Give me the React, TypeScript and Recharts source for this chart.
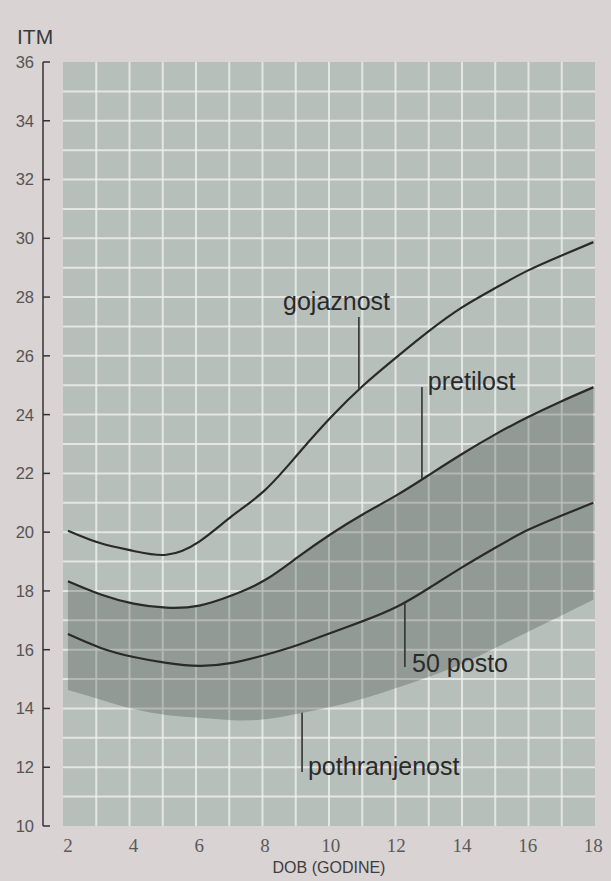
import React from 'react';
import {
  ComposedChart,
  Line,
  Area,
  XAxis,
  YAxis,
  CartesianGrid,
  ReferenceLine,
  ReferenceDot,
} from 'recharts';

// dob u godinama
const AGES = [2, 3, 4, 5, 6, 7, 8, 9, 10, 11, 12, 13, 14, 15, 16, 17, 18];

// ITM krivulje očitane sa slike
const GOJAZNOST = [20.05, 19.62, 19.36, 19.23, 19.68, 20.55, 21.43, 22.65, 23.9, 25.0, 25.95, 26.85, 27.65, 28.3, 28.9, 29.4, 29.87];
const PRETILOST = [18.33, 17.88, 17.57, 17.43, 17.5, 17.85, 18.37, 19.15, 19.93, 20.62, 21.25, 21.95, 22.66, 23.32, 23.91, 24.44, 24.93];
const POSTO_50 = [16.53, 16.06, 15.75, 15.55, 15.45, 15.55, 15.82, 16.16, 16.57, 16.98, 17.45, 18.1, 18.8, 19.46, 20.07, 20.55, 21.0];
const POTHRANJENOST = [14.63, 14.3, 13.98, 13.78, 13.68, 13.6, 13.63, 13.82, 14.05, 14.34, 14.7, 15.08, 15.52, 16.05, 16.6, 17.15, 17.7];

const X_TICKS = [2, 4, 6, 8, 10, 12, 14, 16, 18];
const Y_TICKS = [10, 12, 14, 16, 18, 20, 22, 24, 26, 28, 30, 32, 34, 36];

// oznake s linijama (u jedinicama grafa)
const NAPOMENE = [
  { tekst: 'gojaznost', x: 10.86, gore: 27.32, dolje: 24.85, tx: 8.55, ty: 27.86 },
  { tekst: 'pretilost', x: 12.78, gore: 24.94, dolje: 21.8, tx: 12.96, ty: 25.14 },
  { tekst: '50 posto', x: 12.26, gore: 17.6, dolje: 15.41, tx: 12.48, ty: 15.54 },
  { tekst: 'pothranjenost', x: 9.13, gore: 13.85, dolje: 11.84, tx: 9.31, ty: 12.04 },
];

const data = AGES.map((age, i) => ({
  age,
  gojaznost: GOJAZNOST[i],
  pretilost: PRETILOST[i],
  posto50: POSTO_50[i],
  pojas: [POTHRANJENOST[i], PRETILOST[i]],
}));

const SANS = '"Liberation Sans", Arial, Helvetica, sans-serif';
const SERIF = '"Liberation Serif", "Times New Roman", serif';
const INK = '#2a2a2a';

function YTick({ x, y, payload }: any) {
  return (
    <g>
      <text
        x={x - 29}
        y={y}
        dy="0.36em"
        textAnchor="end"
        fontSize={16.5}
        fill="#555"
        fontFamily={SANS}
      >
        {payload.value}
      </text>
      <line x1={x - 20} x2={x - 13} y1={y} y2={y} stroke="#333" strokeWidth={1.5} />
    </g>
  );
}

function AxisBracket(props: any) {
  const vb = props.viewBox || { x: 0, y: 62, width: 63, height: 764 };
  const lx = vb.x + vb.width - 20;
  return (
    <g>
      <line x1={lx} x2={lx} y1={vb.y} y2={vb.y + vb.height} stroke="#333" strokeWidth={1.5} />
      <text x={vb.x + 17} y={44} fontSize={21} fill="#3a3a3a" fontFamily={SANS}>
        ITM
      </text>
    </g>
  );
}

export default function App() {
  return (
    <div
      style={{
        position: 'fixed',
        left: 0,
        top: 0,
        width: 611,
        height: 881,
        background: '#d9d3d3',
        fontFamily: SANS,
      }}
    >
      <ComposedChart
        width={611}
        height={881}
        data={data}
        margin={{ top: 62, right: 16, bottom: 0, left: 0 }}
      >
        <CartesianGrid
          fill="#b7bfbb"
          fillOpacity={1}
          stroke="#eef0ee"
          strokeOpacity={0.8}
          strokeWidth={2}
          verticalCoordinatesGenerator={({ offset }: any) =>
            Array.from({ length: 15 }, (_, i) => offset.left + ((i + 1) * offset.width) / 16)
          }
          horizontalCoordinatesGenerator={({ offset }: any) =>
            Array.from({ length: 25 }, (_, i) => offset.top + ((i + 1) * offset.height) / 26)
          }
        />
        <XAxis
          dataKey="age"
          type="number"
          domain={[1.85, 18.05]}
          allowDataOverflow
          ticks={X_TICKS}
          axisLine={false}
          tickLine={false}
          tickSize={0}
          tickMargin={13}
          height={55}
          tick={{ fontSize: 19, fill: '#5a5a5a', fontFamily: SERIF }}
          label={{
            value: 'DOB (GODINE)',
            position: 'insideBottom',
            offset: 8,
            fontSize: 16,
            fill: '#3d3d3d',
            fontFamily: SANS,
          }}
        />
        <YAxis
          type="number"
          domain={[10, 36]}
          ticks={Y_TICKS}
          width={63}
          axisLine={false}
          tickLine={false}
          tickSize={0}
          tickMargin={0}
          tick={<YTick />}
          label={{ content: (p: any) => <AxisBracket {...p} /> }}
        />
        <Area
          dataKey="pojas"
          type="natural"
          stroke="none"
          fill="#1c2420"
          fillOpacity={0.24}
          isAnimationActive={false}
        />
        <Line dataKey="gojaznost" type="natural" stroke={INK} strokeWidth={2.2} dot={false} isAnimationActive={false} />
        <Line dataKey="pretilost" type="natural" stroke={INK} strokeWidth={2.2} dot={false} isAnimationActive={false} />
        <Line dataKey="posto50" type="natural" stroke={INK} strokeWidth={2.2} dot={false} isAnimationActive={false} />
        {NAPOMENE.map((n) => (
          <ReferenceLine
            key={'l' + n.tekst}
            segment={[
              { x: n.x, y: n.gore },
              { x: n.x, y: n.dolje },
            ]}
            stroke="#333"
            strokeWidth={1.6}
          />
        ))}
        {NAPOMENE.map((n) => (
          <ReferenceDot
            key={'t' + n.tekst}
            x={n.tx}
            y={n.ty}
            r={0}
            stroke="none"
            label={{
              value: n.tekst,
              position: 'right',
              offset: 0,
              fontSize: 25,
              fill: INK,
              fontFamily: SANS,
            }}
          />
        ))}
      </ComposedChart>
    </div>
  );
}
